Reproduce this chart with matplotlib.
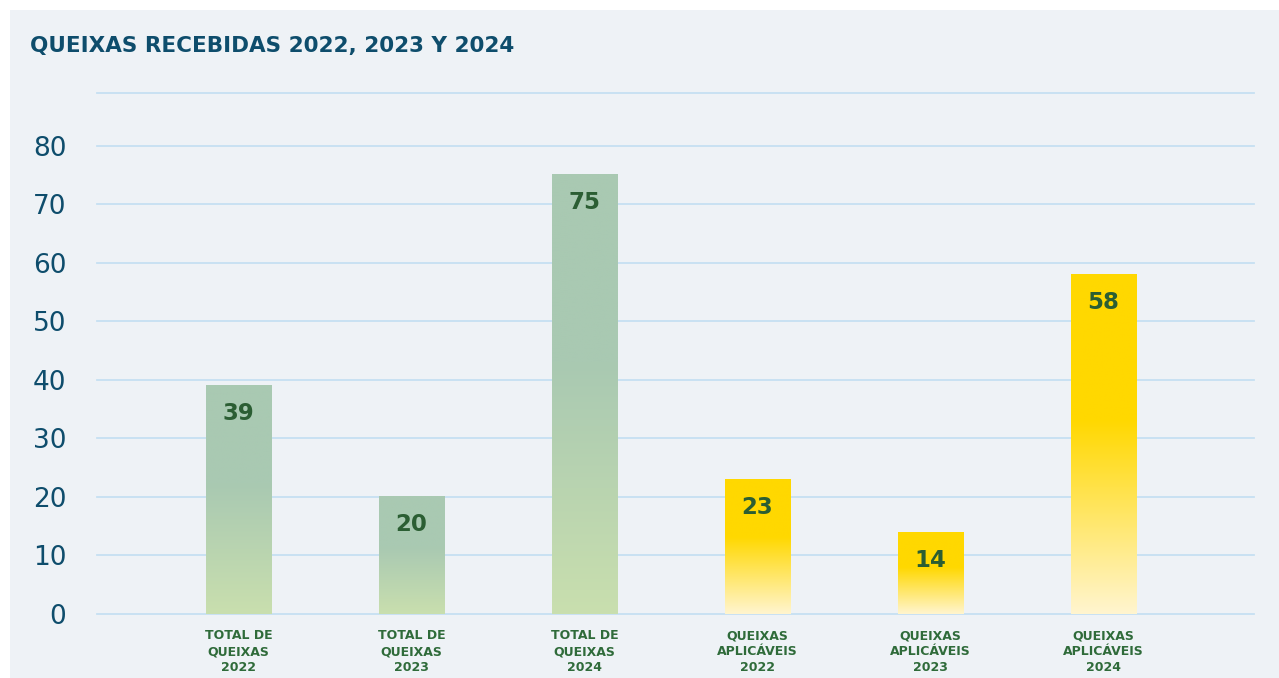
import numpy as np
import matplotlib
matplotlib.use("Agg")
import matplotlib.pyplot as plt
from matplotlib.colors import to_rgba

# ---- data ----
categories = ["TOTAL DE\nQUEIXAS\n2022", "TOTAL DE\nQUEIXAS\n2023", "TOTAL DE\nQUEIXAS\n2024",
              "QUEIXAS\nAPLICÁVEIS\n2022", "QUEIXAS\nAPLICÁVEIS\n2023", "QUEIXAS\nAPLICÁVEIS\n2024"]
values = [39, 20, 75, 23, 14, 58]
groups = ["total", "total", "total", "aplic", "aplic", "aplic"]
yticks = [0, 10, 20, 30, 40, 50, 60, 70, 80]
title = "QUEIXAS RECEBIDAS 2022, 2023 Y 2024"

# ---- style ----
W, H = 1279, 678
top_colors = {"total": "#a9c9b2", "aplic": "#ffd800"}
bot_colors = {"total": "#c9dfae", "aplic": "#fff5cf"}
solid_frac = 0.43
title_col = "#0e4d6c"
val_col = "#2b5e33"
xlab_col = "#2f6b3a"
grid_col = "#c6e0f2"
panel_col = "#eef2f6"

fig = plt.figure(figsize=(W / 100, H / 100), dpi=100, facecolor="white")
bg = fig.add_axes([10 / W, 0, 1 - 10 / W, 1 - 10 / H], zorder=-1)
bg.set_facecolor(panel_col)
bg.set_xticks([])
bg.set_yticks([])
for s in bg.spines.values():
    s.set_visible(False)

ax = fig.add_axes([97 / W, 1 - 614 / H, (1254 - 97) / W, (614 - 93) / H], zorder=2)
ax.set_facecolor("none")
ymax = 89
xs = np.arange(len(values))
bw = 0.376

for x, v, g in zip(xs, values, groups):
    n = 256
    t = np.linspace(0, 1, n)  # 0 bottom, 1 top
    c_top = np.array(to_rgba(top_colors[g]))
    c_bot = np.array(to_rgba(bot_colors[g]))
    frac = np.clip(t / (1 - solid_frac), 0, 1)[:, None]
    img = c_bot * (1 - frac) + c_top * frac
    img = img[:, None, :]
    ax.imshow(img, extent=[x - bw / 2, x + bw / 2, 0, v], origin="lower",
              aspect="auto", interpolation="bilinear", zorder=3)
    ax.annotate(str(v), xy=(x, v), xytext=(0, -28), textcoords="offset pixels",
                ha="center", va="center", fontsize=16.5, fontweight="bold",
                color=val_col, zorder=4)

ax.set_xlim(-0.818, len(values) - 1 + 0.87)
ax.set_ylim(0, ymax)
ax.set_yticks(yticks)
ax.set_yticklabels([str(t) for t in yticks], fontsize=19, color=title_col)
for yv in yticks + [ymax]:
    ax.axhline(yv, color=grid_col, lw=1.3, zorder=1, clip_on=False)
ax.set_xticks(xs)
ax.set_xticklabels(categories, fontsize=9, fontweight="bold", color=xlab_col,
                   linespacing=1.3, va="top")
ax.tick_params(axis="x", length=0, pad=11)
ax.tick_params(axis="y", length=0, pad=22)
for s in ax.spines.values():
    s.set_visible(False)

fig.text(30 / W, 1 - 52 / H, title, fontsize=15.5, fontweight="bold", color=title_col,
         ha="left", va="baseline")

fig.savefig("out.png", dpi=100, facecolor=fig.get_facecolor())
